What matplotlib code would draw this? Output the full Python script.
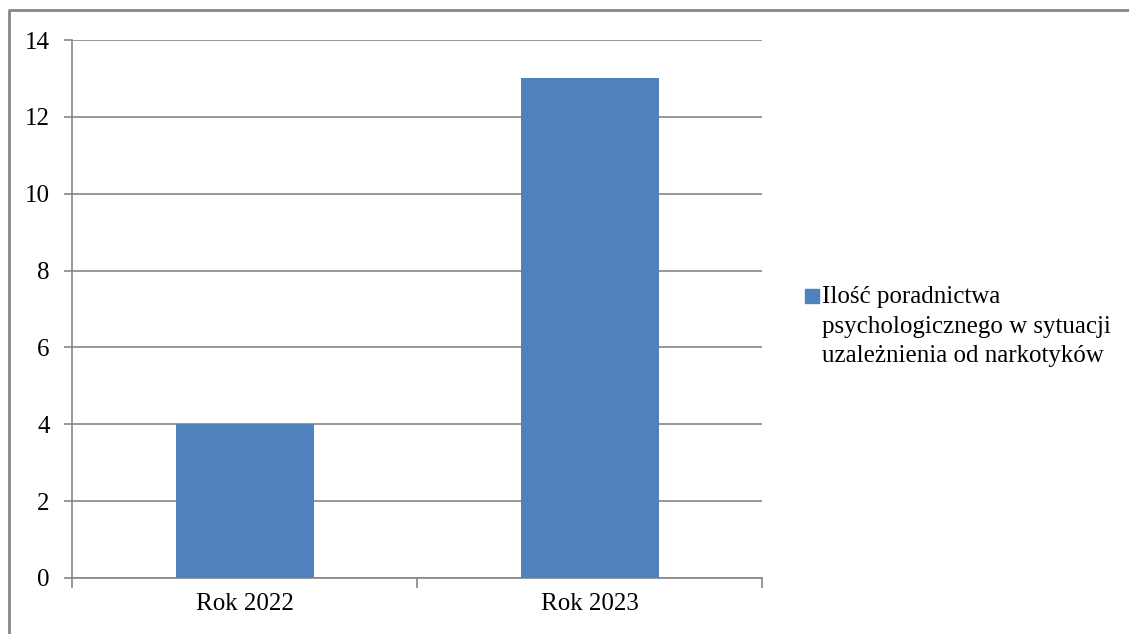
import matplotlib.pyplot as plt
from matplotlib.patches import Rectangle
from matplotlib.lines import Line2D

categories = ["Rok 2022", "Rok 2023"]
values = [4, 13]
series_label = "Ilość poradnictwa\npsychologicznego w sytuacji\nuzależnienia od narkotyków"
yticks = [0, 2, 4, 6, 8, 10, 12, 14]

plt.rcParams["font.family"] = ["Liberation Serif", "DejaVu Serif"]
plt.rcParams["font.size"] = 18

bar_color = "#4F81BD"
line_color = "#868686"

fig = plt.figure(figsize=(11.29, 6.34), dpi=100)
ax = fig.add_axes([72 / 1129, 1 - 578 / 634, 690 / 1129, 538 / 634])

x = list(range(len(categories)))
ax.bar(x, values, width=0.4, color=bar_color, zorder=3)

ax.set_xlim(-0.5, len(categories) - 0.5)
ax.set_ylim(0, 14)
ax.set_yticks(yticks)
ax.yaxis.grid(True, color=line_color, linewidth=1.2)
ax.set_axisbelow(True)

# category labels centred, tick marks on the category boundaries
ax.set_xticks(x)
ax.set_xticklabels(categories)
ax.tick_params(axis="x", length=0, pad=11)
ax.set_xticks([i - 0.5 for i in range(len(categories) + 1)], minor=True)
ax.tick_params(axis="x", which="minor", length=7, width=1.2, color=line_color)
ax.tick_params(axis="y", length=6, width=1.2, color=line_color, pad=10)

for side in ["top", "right"]:
    ax.spines[side].set_visible(False)
for side in ["left", "bottom"]:
    ax.spines[side].set_color(line_color)
    ax.spines[side].set_linewidth(1.2)

# legend drawn by hand so the swatch sits on the first line
fig.patches.append(Rectangle((805 / 1129, 1 - 303 / 634), 14 / 1129, 14 / 634,
                             transform=fig.transFigure, color=bar_color))
fig.text(822 / 1129, 1 - 286 / 634, series_label, va="top", ha="left",
         linespacing=1.45, fontsize=18)

# outer chart border
fig.lines.append(Line2D([9 / 1129, 9 / 1129, 1], [0, 1 - 10 / 634, 1 - 10 / 634],
                        transform=fig.transFigure, color=line_color, linewidth=2))

fig.savefig("out.png", dpi=100)
